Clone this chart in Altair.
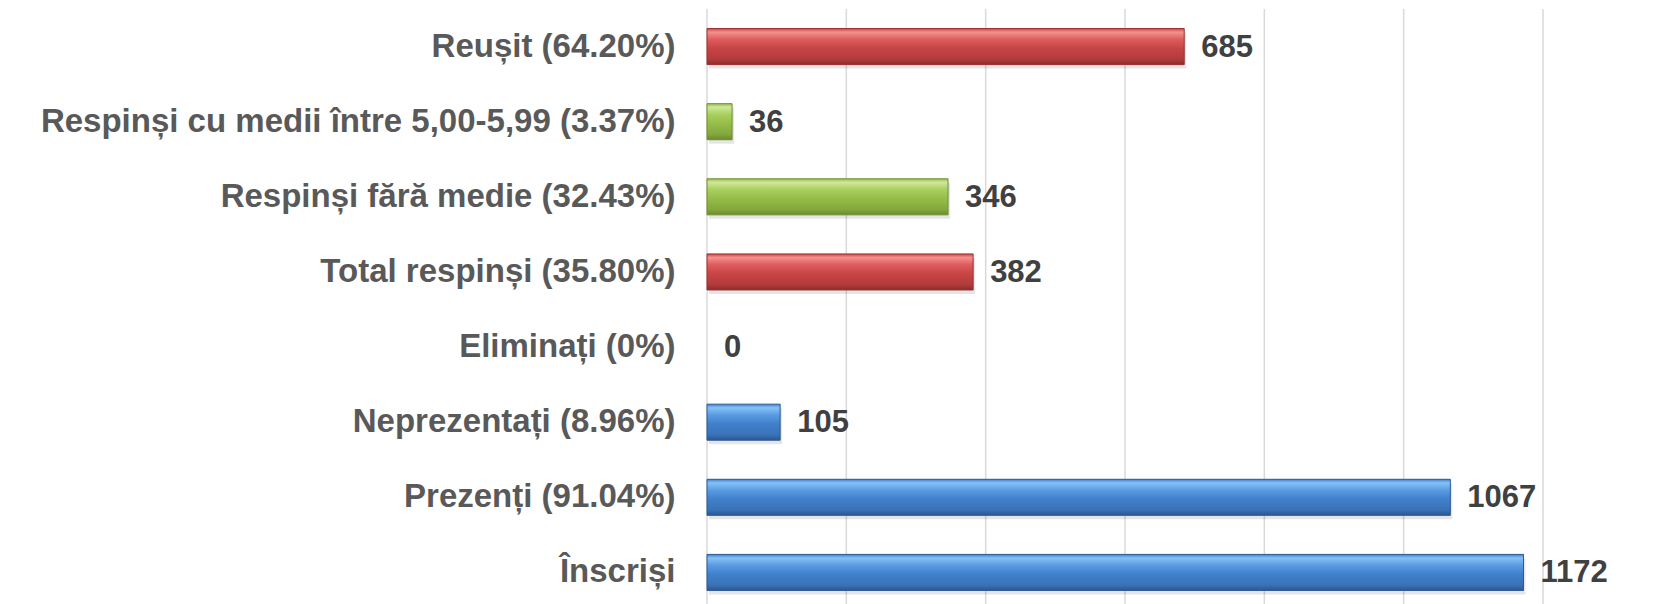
import altair as alt
import pandas as pd

categories = [
    "Reușit (64.20%)",
    "Respinși cu medii între 5,00-5,99 (3.37%)",
    "Respinși fără medie (32.43%)",
    "Total respinși (35.80%)",
    "Eliminați (0%)",
    "Neprezentați (8.96%)",
    "Prezenți (91.04%)",
    "Înscriși",
]
values = [685, 36, 346, 382, 0, 105, 1067, 1172]
groups = ["red", "green", "green", "red", "blue", "blue", "blue", "blue"]
grid_values = [0, 200, 400, 600, 800, 1000, 1200]

df = pd.DataFrame({"cat": categories, "value": values, "group": groups})
grid_df = pd.DataFrame({"value": grid_values})

FONT = "Liberation Sans"

gradients = {
    "red": dict(
        stops=[(0.0, "#d04646"), (0.1, "#f29290"), (0.3, "#de5c5c"),
               (0.55, "#c84444"), (0.85, "#b23b3b"), (1.0, "#8c2c2c")],
        stroke="#9a3030",
    ),
    "green": dict(
        stops=[(0.0, "#98c04c"), (0.1, "#cfe89a"), (0.3, "#a9cf60"),
               (0.55, "#96bd48"), (0.85, "#84a83c"), (1.0, "#6a8a2e")],
        stroke="#6f8f30",
    ),
    "blue": dict(
        stops=[(0.0, "#3f80cf"), (0.1, "#86c2f7"), (0.3, "#5a9be2"),
               (0.55, "#4080cc"), (0.85, "#3a72b8"), (1.0, "#2a5790")],
        stroke="#2d5a92",
    ),
}

x_scale = alt.Scale(domain=[0, 1200], nice=False)

y_enc = alt.Y(
    "cat:N",
    sort=categories,
    title=None,
    scale=alt.Scale(paddingInner=0.52, paddingOuter=0.26),
    axis=alt.Axis(
        labelFont=FONT,
        labelFontSize=33,
        labelFontWeight="bold",
        labelColor="#595959",
        labelPadding=32,
        labelLimit=700,
        ticks=False,
        domain=False,
        grid=False,
    ),
)
x_enc = alt.X("value:Q", title=None, scale=x_scale, axis=None)

grid = alt.Chart(grid_df).mark_rule(color="#d9d9d9", strokeWidth=1.5).encode(
    x=alt.X("value:Q", scale=x_scale, axis=None),
    y=alt.value(0),
    y2=alt.value(601),
)

base = alt.Chart(df)

shadow = base.mark_bar(color="#000000", opacity=0.10, yOffset=4, xOffset=2).encode(
    x=x_enc, y=y_enc
).transform_filter(alt.datum.value > 0)

layers = [grid, shadow]
for g, spec in gradients.items():
    grad = alt.Gradient(
        gradient="linear",
        x1=0, y1=0, x2=0, y2=1,
        stops=[alt.GradientStop(offset=o, color=c) for o, c in spec["stops"]],
    )
    layers.append(
        base.mark_bar(color=grad, stroke=spec["stroke"], strokeWidth=1)
        .encode(x=x_enc, y=y_enc)
        .transform_filter((alt.datum.group == g) & (alt.datum.value > 0))
    )

text = base.mark_text(
    align="left",
    baseline="middle",
    dx=17,
    dy=1,
    font=FONT,
    fontSize=31,
    fontWeight="bold",
    color="#404040",
).encode(x=x_enc, y=y_enc, text="value:Q")
layers.append(text)

chart = (
    alt.layer(*layers)
    .properties(
        width=836,
        height=601,
        autosize=alt.AutoSizeParams(type="none"),
        padding={"left": 699, "top": 1, "right": 118, "bottom": 0},
        view=alt.ViewBackground(strokeWidth=0, strokeOpacity=0),
    )
    .configure_view(strokeWidth=0, strokeOpacity=0)
    .configure(background="white")
)

chart.save("out.html", embed_options={"renderer": "svg", "actions": False})
